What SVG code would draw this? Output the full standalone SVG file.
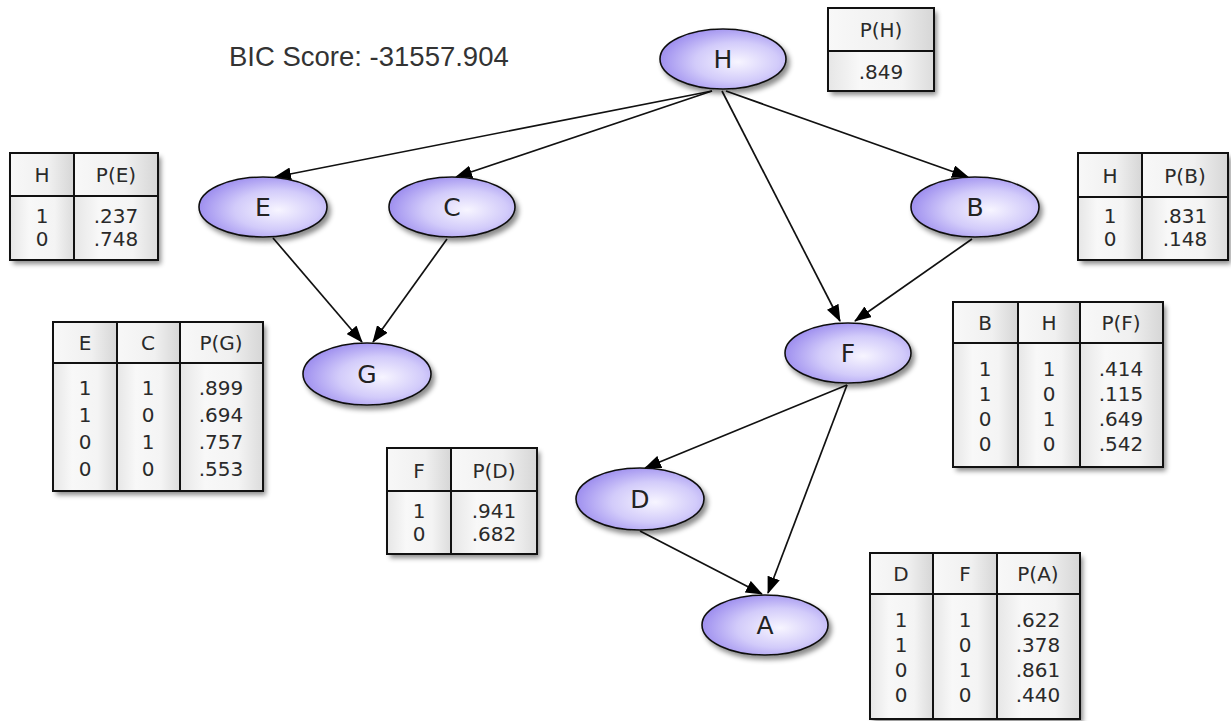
<svg xmlns="http://www.w3.org/2000/svg" width="1231" height="721" viewBox="0 0 1231 721">
<defs>
  <radialGradient id="nodeFill" cx="0.6" cy="0.55" r="0.6" fx="0.62" fy="0.55">
    <stop offset="0" stop-color="#f7f5ff"/>
    <stop offset="0.55" stop-color="#d2cbfa"/>
    <stop offset="1" stop-color="#9f90ef"/>
  </radialGradient>
  <linearGradient id="cellHead" x1="0" y1="0" x2="1" y2="0">
    <stop offset="0" stop-color="#f8f8f8"/>
    <stop offset="0.6" stop-color="#f0f0f0"/>
    <stop offset="1" stop-color="#d6d6d6"/>
  </linearGradient>
  <linearGradient id="cellBody" x1="0" y1="0" x2="1" y2="0">
    <stop offset="0" stop-color="#e6e6e6"/>
    <stop offset="0.3" stop-color="#f8f8f8"/>
    <stop offset="0.7" stop-color="#f4f4f4"/>
    <stop offset="1" stop-color="#dcdcdc"/>
  </linearGradient>
  <filter id="shadow" x="-20%" y="-20%" width="150%" height="160%">
    <feDropShadow dx="3" dy="4" stdDeviation="2.5" flood-color="#000" flood-opacity="0.45"/>
  </filter>
  <marker id="arrow" viewBox="0 0 17 13" refX="16" refY="6.5" markerWidth="17" markerHeight="13" markerUnits="userSpaceOnUse" orient="auto">
    <path d="M0,0 L17,6.5 L0,13 z" fill="#000"/>
  </marker>
  <style>
    .node ellipse { fill: url(#nodeFill); stroke: #111; stroke-width: 1.6; filter: url(#shadow); }
    .node text { font-family: "DejaVu Sans", sans-serif; font-size: 25px; fill: #222; text-anchor: middle; }
    .tbl .frame { fill: none; stroke: #111; stroke-width: 2; }
    .tbl .bg { filter: url(#shadow); fill: #eee; }
    .tbl .h { fill: url(#cellHead); }
    .tbl .b { fill: url(#cellBody); }
    .tbl line { stroke: #111; stroke-width: 2; }
    .tbl text { font-family: "DejaVu Sans", sans-serif; font-size: 20px; fill: #2a2a2a; text-anchor: middle; }
    .edges line { stroke: #111; stroke-width: 1.7; marker-end: url(#arrow); }
    .title { font-family: "Liberation Sans", Arial, sans-serif; font-size: 27.5px; fill: #333; }
  </style>
</defs>
<rect width="1231" height="721" fill="#fff"/>

<text class="title" x="229" y="66">BIC Score: -31557.904</text>

<g class="edges">
  <line x1="712" y1="91" x2="275" y2="177"/>
  <line x1="712" y1="91" x2="456" y2="177"/>
  <line x1="722" y1="91" x2="840" y2="321"/>
  <line x1="726" y1="91" x2="968" y2="177"/>
  <line x1="273" y1="238" x2="362" y2="342"/>
  <line x1="447" y1="239" x2="373" y2="342"/>
  <line x1="972" y1="239" x2="855" y2="321"/>
  <line x1="847" y1="385" x2="645" y2="468"/>
  <line x1="847" y1="385" x2="768" y2="593"/>
  <line x1="640" y1="531" x2="762" y2="594"/>
</g>

<g id="node-H" class="node"><ellipse cx="723" cy="59" rx="63" ry="30"/><text x="723" y="68">H</text></g>
<g id="node-E" class="node"><ellipse cx="263" cy="207" rx="64" ry="30"/><text x="263" y="216">E</text></g>
<g id="node-C" class="node"><ellipse cx="452" cy="207" rx="63" ry="30"/><text x="452" y="216">C</text></g>
<g id="node-B" class="node"><ellipse cx="975" cy="207" rx="64" ry="30"/><text x="975" y="216">B</text></g>
<g id="node-G" class="node"><ellipse cx="367" cy="374" rx="64" ry="31"/><text x="367" y="383">G</text></g>
<g id="node-F" class="node"><ellipse cx="848" cy="353" rx="63" ry="30"/><text x="848" y="362">F</text></g>
<g id="node-D" class="node"><ellipse cx="640" cy="499" rx="64" ry="31"/><text x="640" y="508">D</text></g>
<g id="node-A" class="node"><ellipse cx="765" cy="625" rx="63" ry="30"/><text x="765" y="634">A</text></g>

<g id="table-H" class="tbl">
  <rect class="bg" x="828" y="8" width="106" height="83"/>
  <rect class="h" x="828" y="8" width="106" height="43"/>
  <rect class="b" x="828" y="51" width="106" height="40"/>
  <line x1="828" y1="51" x2="934" y2="51"/>
  <rect class="frame" x="828" y="8" width="106" height="83"/>
  <text x="881" y="37">P(H)</text>
  <text x="881" y="79">.849</text>
</g>

<g id="table-E" class="tbl">
  <rect class="bg" x="10" y="153" width="148" height="107"/>
  <rect class="h" x="10" y="153" width="64" height="43"/>
  <rect class="h" x="74" y="153" width="84" height="43"/>
  <rect class="b" x="10" y="196" width="64" height="64"/>
  <rect class="b" x="74" y="196" width="84" height="64"/>
  <line x1="10" y1="196" x2="158" y2="196"/>
  <line x1="74" y1="153" x2="74" y2="260"/>
  <rect class="frame" x="10" y="153" width="148" height="107"/>
  <text x="42" y="182">H</text><text x="116" y="182">P(E)</text>
  <text x="42" y="223">1</text><text x="116" y="223">.237</text>
  <text x="42" y="246">0</text><text x="116" y="246">.748</text>
</g>

<g id="table-B" class="tbl">
  <rect class="bg" x="1078" y="153" width="150" height="107"/>
  <rect class="h" x="1078" y="153" width="64" height="44"/>
  <rect class="h" x="1142" y="153" width="86" height="44"/>
  <rect class="b" x="1078" y="197" width="64" height="63"/>
  <rect class="b" x="1142" y="197" width="86" height="63"/>
  <line x1="1078" y1="197" x2="1228" y2="197"/>
  <line x1="1142" y1="153" x2="1142" y2="260"/>
  <rect class="frame" x="1078" y="153" width="150" height="107"/>
  <text x="1110" y="183">H</text><text x="1185" y="183">P(B)</text>
  <text x="1110" y="223">1</text><text x="1185" y="223">.831</text>
  <text x="1110" y="246">0</text><text x="1185" y="246">.148</text>
</g>

<g id="table-G" class="tbl">
  <rect class="bg" x="53" y="322" width="210" height="169"/>
  <rect class="h" x="53" y="322" width="64" height="41"/>
  <rect class="h" x="117" y="322" width="63" height="41"/>
  <rect class="h" x="180" y="322" width="83" height="41"/>
  <rect class="b" x="53" y="363" width="64" height="128"/>
  <rect class="b" x="117" y="363" width="63" height="128"/>
  <rect class="b" x="180" y="363" width="83" height="128"/>
  <line x1="53" y1="363" x2="263" y2="363"/>
  <line x1="117" y1="322" x2="117" y2="491"/>
  <line x1="180" y1="322" x2="180" y2="491"/>
  <rect class="frame" x="53" y="322" width="210" height="169"/>
  <text x="85" y="350">E</text><text x="148" y="350">C</text><text x="221" y="350">P(G)</text>
  <text x="85" y="395">1</text><text x="148" y="395">1</text><text x="221" y="395">.899</text>
  <text x="85" y="422">1</text><text x="148" y="422">0</text><text x="221" y="422">.694</text>
  <text x="85" y="449">0</text><text x="148" y="449">1</text><text x="221" y="449">.757</text>
  <text x="85" y="476">0</text><text x="148" y="476">0</text><text x="221" y="476">.553</text>
</g>

<g id="table-F" class="tbl">
  <rect class="bg" x="953" y="302" width="210" height="165"/>
  <rect class="h" x="953" y="302" width="65" height="41"/>
  <rect class="h" x="1018" y="302" width="62" height="41"/>
  <rect class="h" x="1080" y="302" width="83" height="41"/>
  <rect class="b" x="953" y="343" width="65" height="124"/>
  <rect class="b" x="1018" y="343" width="62" height="124"/>
  <rect class="b" x="1080" y="343" width="83" height="124"/>
  <line x1="953" y1="343" x2="1163" y2="343"/>
  <line x1="1018" y1="302" x2="1018" y2="467"/>
  <line x1="1080" y1="302" x2="1080" y2="467"/>
  <rect class="frame" x="953" y="302" width="210" height="165"/>
  <text x="985" y="330">B</text><text x="1049" y="330">H</text><text x="1121" y="330">P(F)</text>
  <text x="985" y="376">1</text><text x="1049" y="376">1</text><text x="1121" y="376">.414</text>
  <text x="985" y="401">1</text><text x="1049" y="401">0</text><text x="1121" y="401">.115</text>
  <text x="985" y="426">0</text><text x="1049" y="426">1</text><text x="1121" y="426">.649</text>
  <text x="985" y="451">0</text><text x="1049" y="451">0</text><text x="1121" y="451">.542</text>
</g>

<g id="table-D" class="tbl">
  <rect class="bg" x="387" y="448" width="150" height="106"/>
  <rect class="h" x="387" y="448" width="64" height="43"/>
  <rect class="h" x="451" y="448" width="86" height="43"/>
  <rect class="b" x="387" y="491" width="64" height="63"/>
  <rect class="b" x="451" y="491" width="86" height="63"/>
  <line x1="387" y1="491" x2="537" y2="491"/>
  <line x1="451" y1="448" x2="451" y2="554"/>
  <rect class="frame" x="387" y="448" width="150" height="106"/>
  <text x="419" y="478">F</text><text x="494" y="478">P(D)</text>
  <text x="419" y="518">1</text><text x="494" y="518">.941</text>
  <text x="419" y="541">0</text><text x="494" y="541">.682</text>
</g>

<g id="table-A" class="tbl">
  <rect class="bg" x="870" y="553" width="210" height="166"/>
  <rect class="h" x="870" y="553" width="63" height="41"/>
  <rect class="h" x="933" y="553" width="64" height="41"/>
  <rect class="h" x="997" y="553" width="83" height="41"/>
  <rect class="b" x="870" y="594" width="63" height="125"/>
  <rect class="b" x="933" y="594" width="64" height="125"/>
  <rect class="b" x="997" y="594" width="83" height="125"/>
  <line x1="870" y1="594" x2="1080" y2="594"/>
  <line x1="933" y1="553" x2="933" y2="719"/>
  <line x1="997" y1="553" x2="997" y2="719"/>
  <rect class="frame" x="870" y="553" width="210" height="166"/>
  <text x="901" y="581">D</text><text x="965" y="581">F</text><text x="1038" y="581">P(A)</text>
  <text x="901" y="627">1</text><text x="965" y="627">1</text><text x="1038" y="627">.622</text>
  <text x="901" y="652">1</text><text x="965" y="652">0</text><text x="1038" y="652">.378</text>
  <text x="901" y="677">0</text><text x="965" y="677">1</text><text x="1038" y="677">.861</text>
  <text x="901" y="702">0</text><text x="965" y="702">0</text><text x="1038" y="702">.440</text>
</g>
</svg>
